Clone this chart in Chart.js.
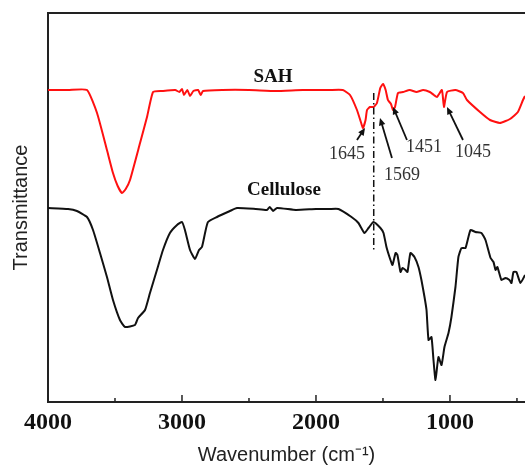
<!DOCTYPE html>
<html>
<head>
<meta charset="utf-8">
<script src="https://cdn.jsdelivr.net/npm/chart.js@4/dist/chart.umd.min.js"></script>
<style>
html,body{margin:0;padding:0;background:#fff;}
#wrap{width:525px;height:467px;}
</style>
</head>
<body>
<div id="wrap"><canvas id="c" width="525" height="467"></canvas></div>
<script>
// Wavenumber (cm-1) and transmittance (a.u.)
const sahWavenumber = [4000,3850,3709,3634,3560,3515,3480,3448,3420,3388,3313,3261,3216,3150,3050,3020,3000,2985,2960,2940,2915,2880,2860,2843,2700,2500,2300,2100,1900,1800,1746,1694,1665,1649,1630,1619,1597,1570,1545,1520,1500,1480,1463,1440,1425,1410,1388,1350,1300,1250,1200,1150,1120,1097,1060,1045,1022,960,903,873,776,701,627,552,493,455,440];
const sahT = [312,312,312,289,252,229,216,209,213,222,259,285,310,311,312,310,313,307,312,306,311,312,307,311,312,312,311,312,312,312,307,292,280,274,282,292,295,295,299,314,318,312,302,298,292,295,309,310,312,310,312,310,307,305,312,295,310,312,309,302,290,282,279,283,290,302,306];

const celluloseWavenumber = [4000,3850,3784,3709,3664,3612,3560,3515,3463,3425,3351,3328,3276,3239,3187,3142,3090,3037,3000,2978,2940,2903,2873,2851,2828,2806,2739,2642,2590,2450,2366,2345,2320,2291,2150,2000,1900,
  1832,1735,1683,1638,1608,1571,1519,1496,1474,1444,1429,1406,1392,1369,1354,1332,1317,1295,1265,1235,1213,1190,1175,1160,1138,1123,1108,1086,1063,1041,1011,989,959,937,914,884,847,810,765,735,697,675,660,646,616,586,556,541,526,504,474,440];
const celluloseT = [194,193,191,185,172,149,125,102,82,75,77,84,92,109,132,152,169,177,180,172,152,143,152,155,169,180,185,191,194,193,192,195,191,194,192,193,193,
  193,185,179,169,174,180,174,169,155,142,137,149,147,130,134,132,130,149,145,135,122,105,92,62,65,42,22,45,37,55,69,85,115,145,154,154,172,170,169,162,144,140,132,135,122,124,122,119,130,130,119,127];

const majorTicks = [4000,3000,2000,1000];
const minorTicks = [3500,2500,1500,500];

// annotations (data coordinates)
const seriesLabels = [
  {text:'SAH', w:2321, y:325},
  {text:'Cellulose', w:2239, y:212}
];
const peakLabels = [
  {text:'1645', w:1769, y:248, arrow:[1694,262,1634,274]},
  {text:'1569', w:1358, y:227, arrow:[1433,244,1522,284]},
  {text:'1451', w:1194, y:255, arrow:[1321,262,1425,295]},
  {text:'1045', w:828,  y:250, arrow:[903,262,1022,295]}
];
const markerLine = {w:1569, y1:309, y2:150};

const toXY = (xs, ys) => xs.map((x,i)=>({x:x, y:ys[i]}));

const decor = {
  id:'decor',
  afterDatasetsDraw(chart){
    const ctx = chart.ctx, xs = chart.scales.x, ys = chart.scales.y, a = chart.chartArea;
    ctx.save();
    // top frame
    ctx.strokeStyle = '#222'; ctx.lineWidth = 2;
    ctx.beginPath(); ctx.moveTo(a.left, a.top); ctx.lineTo(a.right, a.top); ctx.stroke();
    // inward ticks
    ctx.lineWidth = 1.5;
    majorTicks.forEach(v=>{const px = xs.getPixelForValue(v); ctx.beginPath(); ctx.moveTo(px,a.bottom); ctx.lineTo(px,a.bottom-7); ctx.stroke();});
    minorTicks.forEach(v=>{const px = xs.getPixelForValue(v); ctx.beginPath(); ctx.moveTo(px,a.bottom); ctx.lineTo(px,a.bottom-4); ctx.stroke();});
    // dash-dot marker line
    ctx.strokeStyle = '#111'; ctx.lineWidth = 1.5; ctx.setLineDash([7,3,1.5,3]);
    const mx = xs.getPixelForValue(markerLine.w);
    ctx.beginPath(); ctx.moveTo(mx, ys.getPixelForValue(markerLine.y1)); ctx.lineTo(mx, ys.getPixelForValue(markerLine.y2)); ctx.stroke();
    ctx.setLineDash([]);
    // series labels
    ctx.fillStyle = '#111'; ctx.textAlign = 'center'; ctx.textBaseline = 'middle';
    ctx.font = 'bold 19px "Liberation Serif", "Times New Roman", serif';
    seriesLabels.forEach(l=>ctx.fillText(l.text, xs.getPixelForValue(l.w), ys.getPixelForValue(l.y)));
    // peak labels and arrows
    ctx.font = '18px "Liberation Serif", "Times New Roman", serif';
    peakLabels.forEach(l=>{
      ctx.fillStyle = '#333';
      ctx.fillText(l.text, xs.getPixelForValue(l.w), ys.getPixelForValue(l.y));
      const x1 = xs.getPixelForValue(l.arrow[0]), y1 = ys.getPixelForValue(l.arrow[1]);
      const x2 = xs.getPixelForValue(l.arrow[2]), y2 = ys.getPixelForValue(l.arrow[3]);
      const ang = Math.atan2(y2-y1, x2-x1), hl = 8;
      ctx.strokeStyle = '#111'; ctx.lineWidth = 1.8;
      ctx.beginPath(); ctx.moveTo(x1,y1); ctx.lineTo(x2 - Math.cos(ang)*4, y2 - Math.sin(ang)*4); ctx.stroke();
      ctx.fillStyle = '#111';
      ctx.beginPath(); ctx.moveTo(x2,y2);
      ctx.lineTo(x2 - hl*Math.cos(ang-0.42), y2 - hl*Math.sin(ang-0.42));
      ctx.lineTo(x2 - hl*Math.cos(ang+0.42), y2 - hl*Math.sin(ang+0.42));
      ctx.closePath(); ctx.fill();
    });
    ctx.restore();
  }
};

new Chart(document.getElementById('c'), {
  type:'line',
  data:{
    datasets:[
      {label:'SAH', data: toXY(sahWavenumber, sahT), borderColor:'#ff1010', borderWidth:2, pointRadius:0, tension:0.15, fill:false},
      {label:'Cellulose', data: toXY(celluloseWavenumber, celluloseT), borderColor:'#111', borderWidth:2, pointRadius:0, tension:0.15, fill:false}
    ]
  },
  options:{
    responsive:false, animation:false,
    layout:{padding:{top:13,right:0,left:0,bottom:0}},
    plugins:{legend:{display:false}, tooltip:{enabled:false}},
    scales:{
      x:{
        type:'linear', reverse:true, min:440, max:4000,
        afterBuildTicks(s){ s.ticks = majorTicks.map(v=>({value:v})); },
        afterFit(s){ s.height = 65; },
        grid:{display:false, drawTicks:false},
        border:{display:true, color:'#222', width:2},
        ticks:{padding:6, maxRotation:0, autoSkip:false, color:'#111', callback:(v)=>String(v),
               font:{family:'"Liberation Serif", "Times New Roman", serif', size:24, weight:'bold'}},
        title:{display:true, text:'Wavenumber (cm⁻¹)', color:'#222', padding:{top:0,bottom:0}, font:{family:'"Liberation Sans", Arial, sans-serif', size:20}}
      },
      y:{
        min:0, max:389,
        afterFit(s){ s.width = 48; },
        grid:{display:false, drawTicks:false},
        border:{display:true, color:'#222', width:2},
        ticks:{display:false},
        title:{display:true, text:'Transmittance', color:'#222', padding:{top:9,bottom:0}, font:{family:'"Liberation Sans", Arial, sans-serif', size:20}}
      }
    }
  },
  plugins:[decor]
});
</script>
</body>
</html>
